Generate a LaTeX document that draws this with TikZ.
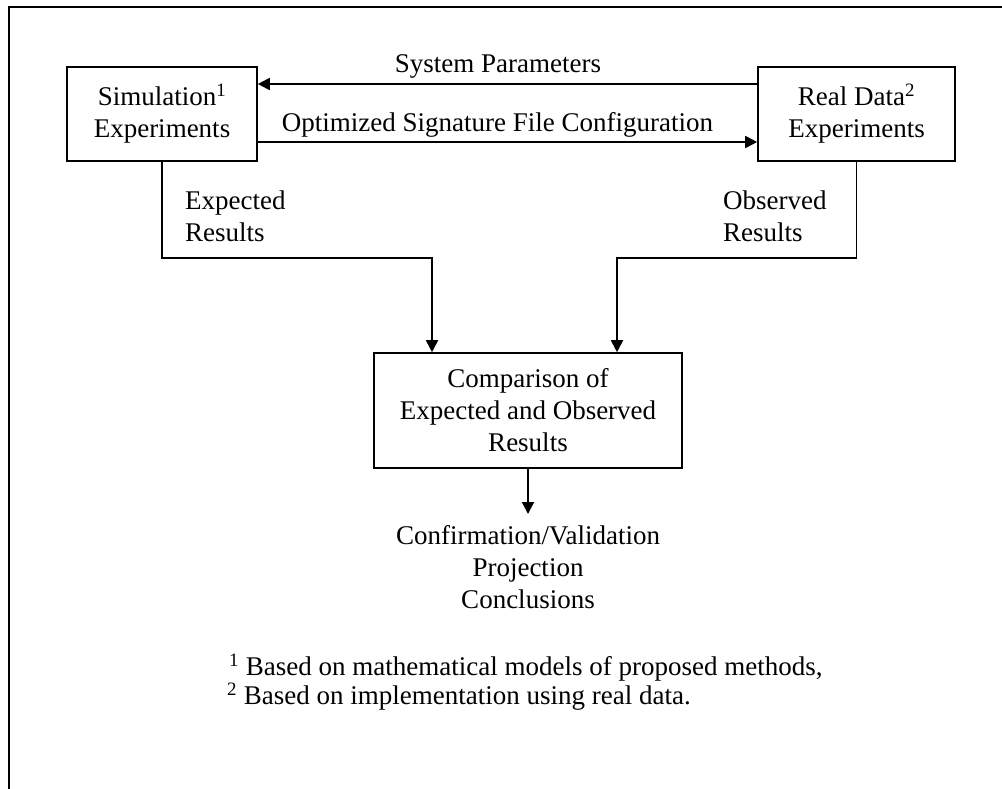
\documentclass[tikz,border=0pt]{standalone}
\usepackage{fontspec}
\setmainfont{Liberation Serif}
\usetikzlibrary{arrows.meta}
\begin{document}
\begin{tikzpicture}[x=1pt,y=-1pt,
  every node/.style={font=\fontsize{27}{32}\selectfont},
  box/.style={draw, line width=1.6pt, align=center, inner sep=0pt},
  link/.style={line width=1.8pt, -{Triangle[length=12pt,width=12pt]}},
  lbl/.style={inner sep=0pt, align=left},
  txt/.style={inner sep=0pt, align=center},
]
\useasboundingbox (0,0) rectangle (1002,789);
% outer frame (top and left edges)
\draw[line width=2.4pt] (9,789) -- (9,7) -- (1002,7);

% process boxes
\node[box, minimum width=190pt, minimum height=94pt] (sim) at (162,114)
  {Simulation\textsuperscript{1}\\Experiments};
\node[box, minimum width=197pt, minimum height=94pt] (real) at (856.5,114)
  {Real Data\textsuperscript{2}\\Experiments};
\node[box, minimum width=308pt, minimum height=115pt] (comp) at (528,410.5)
  {Comparison of\\Expected and Observed\\Results};

% exchange between the two experiment boxes
\draw[link] ([yshift=30pt]real.west) -- ([yshift=30pt]sim.east);
\draw[link] ([yshift=-28pt]sim.east) -- ([yshift=-28pt]real.west);
\node[txt] (sp) at (498,66) {System Parameters};
\node[txt] (osfc) at (497.5,125) {Optimized Signature File Configuration};

% results feeding the comparison
\draw[link] (sim.south) -- ++(0,96) -| ([xshift=-96pt]comp.north);
\draw[link] (real.south) -- ++(0,96) -| ([xshift=89pt]comp.north);
\node[lbl, anchor=west] (exp) at (185,216) {Expected\\Results};
\node[lbl, anchor=west] (obs) at (723,216) {Observed\\Results};

% outcome
\node[txt] (concl) at (528,567) {Confirmation/Validation\\Projection\\Conclusions};
\coordinate (tip) at (528,514);
\draw[link] (comp.south) -- (tip);

% footnotes
\node[lbl, anchor=west] (fn1) at (229,668)
  {\textsuperscript{1} Based on mathematical models of proposed methods,};
\node[lbl, anchor=west] (fn2) at (227,697)
  {\textsuperscript{2} Based on implementation using real data.};
\end{tikzpicture}
\end{document}
